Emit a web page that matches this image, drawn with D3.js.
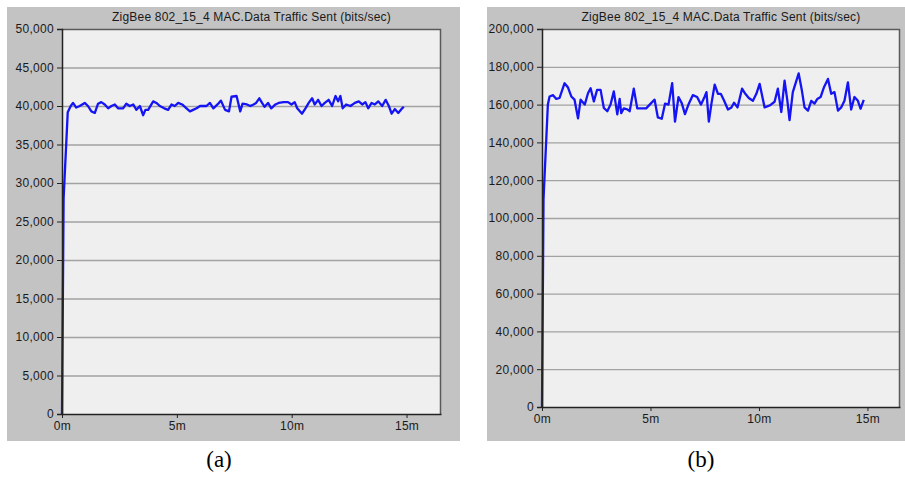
<!DOCTYPE html>
<html>
<head>
<meta charset="utf-8">
<script src="https://cdn.jsdelivr.net/npm/d3@7"></script>
<style>
  html, body { margin: 0; padding: 0; background: #ffffff; }
  svg { display: block; }
  text { font-family: "Liberation Sans", Arial, sans-serif; }
</style>
</head>
<body>
<svg id="chart" width="905" height="477"></svg>
<script>
// Shared labels
const chartTitle = "ZigBee 802_15_4 MAC.Data Traffic Sent (bits/sec)";
const xTickValues = [0, 5, 10, 15];
const xTickLabels = ["0m", "5m", "10m", "15m"];

// Panel (a): time in minutes, traffic in bits/sec
const timeA = [0, 0.07, 0.25, 0.38, 0.48, 0.62, 0.77, 0.99, 1.13, 1.28, 1.43, 1.57, 1.71, 1.86, 2.01, 2.15, 2.30, 2.44, 2.66, 2.80, 2.95,
  3.10, 3.24, 3.39, 3.53, 3.63, 3.75, 3.97, 4.11, 4.26, 4.45, 4.62, 4.77, 4.91, 5.06, 5.23, 5.42, 5.57, 5.71, 5.86, 6.01,
  6.29, 6.44, 6.59, 6.77, 6.92, 7.10, 7.27, 7.38, 7.60, 7.76, 7.86, 8.05, 8.20, 8.34, 8.45, 8.59, 8.71, 8.82, 8.97, 9.11,
  9.29, 9.43, 9.65, 9.84, 9.99, 10.13, 10.24, 10.45, 10.60, 10.74, 10.89, 11.00, 11.15, 11.30, 11.44, 11.61, 11.76, 11.91,
  12.02, 12.12, 12.22, 12.37, 12.56, 12.75, 12.92, 13.07, 13.21, 13.33, 13.48, 13.62, 13.77, 13.94, 14.09, 14.23, 14.35,
  14.49, 14.64, 14.81, 14.88];
const trafficA = [0, 28000, 39200, 40000, 40400, 39800, 40000, 40400, 40000, 39300, 39100, 40300, 40500, 40200, 39700, 40000, 40200, 39700, 39700, 40300, 40000,
  40200, 39500, 40000, 38800, 39500, 39500, 40600, 40400, 40000, 39700, 39500, 40200, 40000, 40400, 40200, 39700, 39300, 39500, 39700, 40000,
  40000, 40400, 39700, 40200, 40700, 39500, 39300, 41200, 41300, 39300, 40300, 40200, 40000, 40200, 40400, 41000, 40400, 39900, 40400, 39700,
  40200, 40400, 40500, 40500, 40200, 40500, 39700, 39000, 39700, 40400, 41000, 40200, 40800, 40000, 40400, 40800, 40000, 41300,
  40600, 41300, 39700, 40200, 40000, 40400, 40600, 40200, 40500, 39700, 40400, 40200, 40600, 40000, 40800, 40000, 39000,
  39600, 39100, 39700, 39900];
const yTicksA = [0, 5000, 10000, 15000, 20000, 25000, 30000, 35000, 40000, 45000, 50000];

// Panel (b): time in minutes, traffic in bits/sec
const timeB = [0, 0.07, 0.27, 0.35, 0.51, 0.66, 0.81, 1.04, 1.20, 1.35, 1.50, 1.66, 1.78, 1.97, 2.12, 2.24, 2.39, 2.54, 2.70, 2.85, 3.01,
  3.16, 3.31, 3.47, 3.58, 3.65, 3.77, 3.93, 4.04, 4.23, 4.39, 4.57, 4.80, 5.03, 5.19, 5.34, 5.52, 5.67, 5.83, 6.00, 6.13,
  6.29, 6.44, 6.59, 6.75, 6.95, 7.15, 7.33, 7.49, 7.58, 7.69, 7.81, 7.96, 8.11, 8.24, 8.39, 8.57, 8.73, 8.85, 9.01, 9.22,
  9.37, 9.53, 9.72, 9.88, 10.03, 10.26, 10.49, 10.72, 10.87, 11.03, 11.18, 11.31, 11.41, 11.56, 11.83, 11.98, 12.10, 12.26,
  12.41, 12.56, 12.69, 12.84, 12.99, 13.18, 13.33, 13.48, 13.64, 13.79, 13.94, 14.10, 14.25, 14.40, 14.56, 14.68, 14.83];
const trafficB = [0, 110000, 160000, 164300, 165000, 163000, 163500, 171300, 169000, 164300, 162600, 152700, 162600, 160000, 166000, 168700, 161700, 167800, 167800, 158200, 156500,
  160000, 167000, 154800, 163000, 155500, 158000, 157500, 156500, 168400, 158000, 158000, 158000, 160800, 162600, 153200, 152500, 160500, 160000, 171300, 151000,
  164000, 160800, 155000, 160000, 165000, 164000, 160000, 164000, 166600, 151000, 160500, 170600, 165700, 165700, 162200, 157400, 158500, 161000, 158500, 168400,
  165700, 163500, 162000, 165700, 171000, 158500, 159500, 161500, 168400, 156100, 172700, 162000, 151800, 166600, 176500, 167300, 158500, 156800,
  162000, 160500, 163000, 164000, 169000, 173600, 165700, 166600, 156800, 158500, 162000, 171800, 157400, 164000, 162000, 157800, 162500];
const yTicksB = [0, 20000, 40000, 60000, 80000, 100000, 120000, 140000, 160000, 180000, 200000];

const svg = d3.select("#chart");
const fmt = d3.format(",");

function styleTickText(sel) {
  sel.attr("fill", "#1a1a1a")
    .style("font-size", "12px")
    .style("letter-spacing", "0.3px")
    .style("font-family", "'Liberation Sans', Arial, sans-serif");
}

function drawPanel(cfg) {
  const g = svg.append("g");

  // grey window background
  g.append("rect")
    .attr("x", cfg.bg[0]).attr("y", cfg.bg[1])
    .attr("width", cfg.bg[2]).attr("height", cfg.bg[3])
    .attr("fill", "#c3c3c3");

  const x = d3.scaleLinear().domain([0, 16.5]).range([cfg.left, cfg.right]);
  const y = d3.scaleLinear().domain([0, cfg.yMax]).range([cfg.bottom, cfg.top]);

  // plot area
  g.append("rect")
    .attr("x", cfg.left).attr("y", cfg.top)
    .attr("width", cfg.right - cfg.left).attr("height", cfg.bottom - cfg.top)
    .attr("fill", "#efefef");

  // horizontal grid lines
  g.append("g")
    .selectAll("line")
    .data(cfg.yTicks.filter(v => v > 0 && v < cfg.yMax))
    .join("line")
    .attr("x1", cfg.left).attr("x2", cfg.right)
    .attr("y1", d => y(d) + 0.5).attr("y2", d => y(d) + 0.5)
    .attr("stroke", "#a2a2a2").attr("stroke-width", 1.3);

  // top and right frame
  g.append("path")
    .attr("d", `M${cfg.left},${cfg.top + 0.5}H${cfg.right - 0.5}V${cfg.bottom}`)
    .attr("fill", "none").attr("stroke", "#5a5a5a").attr("stroke-width", 1.5);

  // data line
  const line = d3.line().x(d => x(d[0])).y(d => y(d[1]));
  g.append("path")
    .datum(cfg.time.map((t, i) => [t, cfg.values[i]]))
    .attr("d", line)
    .attr("fill", "none")
    .attr("stroke", "#1414f4")
    .attr("stroke-width", 2.3)
    .attr("stroke-linejoin", "round");

  // y axis
  const yAxis = d3.axisLeft(y).tickValues(cfg.yTicks).tickFormat(fmt).tickSize(5).tickPadding(3);
  const ya = g.append("g").attr("transform", `translate(${cfg.left},0)`).call(yAxis);
  ya.select(".domain").attr("stroke", "#222").attr("stroke-width", 1.5);
  ya.selectAll(".tick line").attr("stroke", "#222");
  ya.selectAll(".tick text").call(styleTickText);

  // x axis
  const xAxis = d3.axisBottom(x).tickValues(xTickValues)
    .tickFormat((d, i) => xTickLabels[i]).tickSize(4).tickPadding(3).tickSizeOuter(0);
  const xa = g.append("g").attr("transform", `translate(0,${cfg.bottom})`).call(xAxis);
  xa.select(".domain").attr("stroke", "#222").attr("stroke-width", 1.5);
  xa.selectAll(".tick line").attr("stroke", "#222");
  xa.selectAll(".tick text").call(styleTickText);

  // chart title
  g.append("text")
    .attr("x", (cfg.left + cfg.right) / 2)
    .attr("y", 21)
    .attr("text-anchor", "middle")
    .attr("fill", "#1a1a1a")
    .style("font-size", "12px")
    .style("letter-spacing", "0.2px")
    .text(chartTitle);

  // panel caption
  g.append("text")
    .attr("x", cfg.captionX)
    .attr("y", 467)
    .attr("text-anchor", "middle")
    .attr("fill", "#000")
    .style("font-family", "'Liberation Serif', 'Times New Roman', serif")
    .style("font-size", "23px")
    .text(cfg.caption);
}

drawPanel({
  bg: [7, 7, 453, 434],
  left: 62, right: 441, top: 29, bottom: 414,
  yMax: 50000, yTicks: yTicksA,
  time: timeA, values: trafficA,
  caption: "(a)", captionX: 219
});

drawPanel({
  bg: [487, 7, 418, 434],
  left: 542, right: 900, top: 29, bottom: 407,
  yMax: 200000, yTicks: yTicksB,
  time: timeB, values: trafficB,
  caption: "(b)", captionX: 701
});
</script>
</body>
</html>
